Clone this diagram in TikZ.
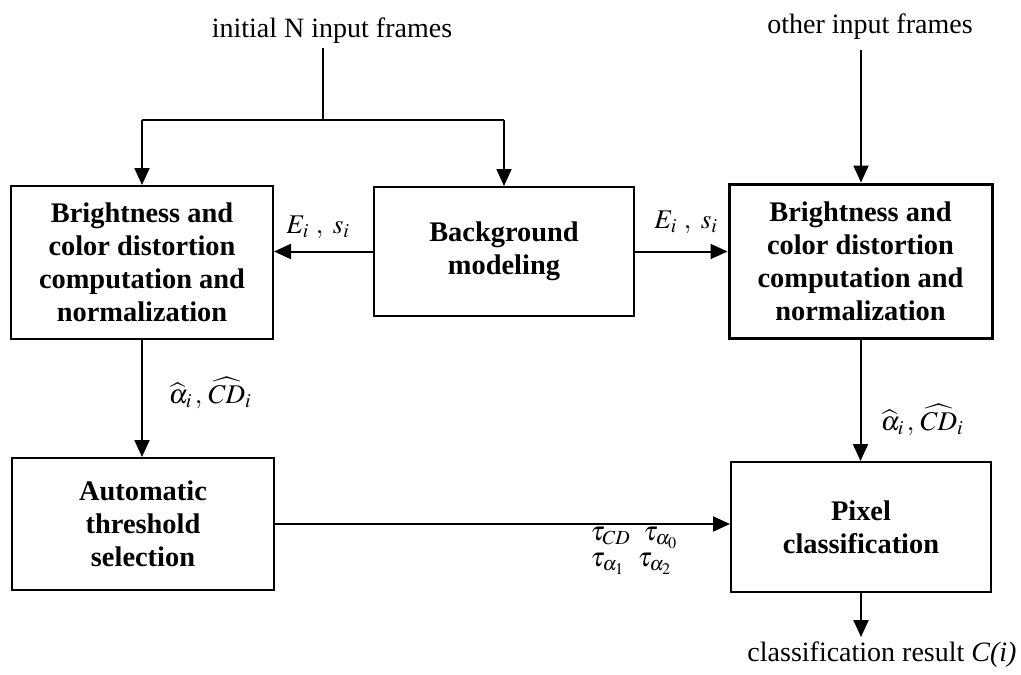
\documentclass[tikz,border=0pt]{standalone}
\usepackage{mathptmx}
\usepackage{fontspec}
\setmainfont{Liberation Serif}
\usetikzlibrary{arrows.meta}
\begin{document}
\begin{tikzpicture}[x=1pt,y=-1pt,
  line width=2pt,
  blockbox/.style={draw,line width=2pt,align=center,inner sep=0pt,
    font=\bfseries\fontsize{28.4}{33}\selectfont},
  plain/.style={font=\fontsize{28}{32}\selectfont,inner sep=0pt},
  lbl/.style={font=\fontsize{27}{30}\selectfont,inner sep=0pt},
  arr/.style={-{Triangle[length=17pt,width=15pt]}}]
\useasboundingbox (0,0) rectangle (1021,675);

% processing blocks
\node[blockbox,minimum width=262pt,minimum height=153pt] (left) at (142,262.5)
  {Brightness and\\color distortion\\computation and\\normalization};
\node[blockbox,minimum width=260pt,minimum height=129pt] (mid) at (504,251.5)
  {Background\\modeling};
\node[blockbox,line width=3pt,minimum width=263pt,minimum height=154pt] (right) at (860.5,261)
  {Brightness and\\color distortion\\computation and\\normalization};
\node[blockbox,minimum width=262pt,minimum height=132pt] (auto) at (143,524)
  {Automatic\\threshold\\selection};
\node[blockbox,minimum width=260pt,minimum height=130pt] (pix) at (861,527)
  {Pixel\\classification};

% inputs and output
\node[plain] (init) at (332,31) {initial N input frames};
\node[plain] (other) at (870,27) {other input frames};
\node[plain] (res) at (882,655) {classification result \textit{C(i)}};
\coordinate (s1) at (323,48);
\coordinate (j) at (323,120);
\coordinate (s2) at (861,50);
\coordinate (cend) at (861,637);

% connectors
\draw (s1) -- (j);
\draw (left.north |- j) -- (mid.north |- j);
\draw[arr] (left.north |- j) -- (left.north);
\draw[arr] (mid.north |- j) -- (mid.north);
\draw[arr] (s2) -- (s2 |- right.north);
\draw[arr] (mid.west) -- (mid.west -| left.east);
\draw[arr] (mid.east) -- (mid.east -| right.west);
\draw[arr] (left.south) -- (left.south |- auto.north);
\draw[arr] (right.south) -- (right.south |- pix.north);
\draw[arr] (auto.east) -- (auto.east -| pix.west);
\draw[arr] (pix.south) -- (cend);

% connector labels
\node[lbl] (es1) at (318,227) {$E_i\ ,\ s_i$};
\node[lbl] (es2) at (686,222) {$E_i\ ,\ s_i$};
\node[lbl] (ac1) at (210,393) {$\widehat{\alpha}_i\,,\,\widehat{CD}_i$};
\node[lbl] (ac2) at (922,420) {$\widehat{\alpha}_i\,,\,\widehat{CD}_i$};
\node[lbl,align=left] (tau) at (634,551)
  {$\tau_{CD}\ \ \tau_{\alpha_0}$\\[-4pt]$\tau_{\alpha_1}\ \ \tau_{\alpha_2}$};
\end{tikzpicture}
\end{document}
